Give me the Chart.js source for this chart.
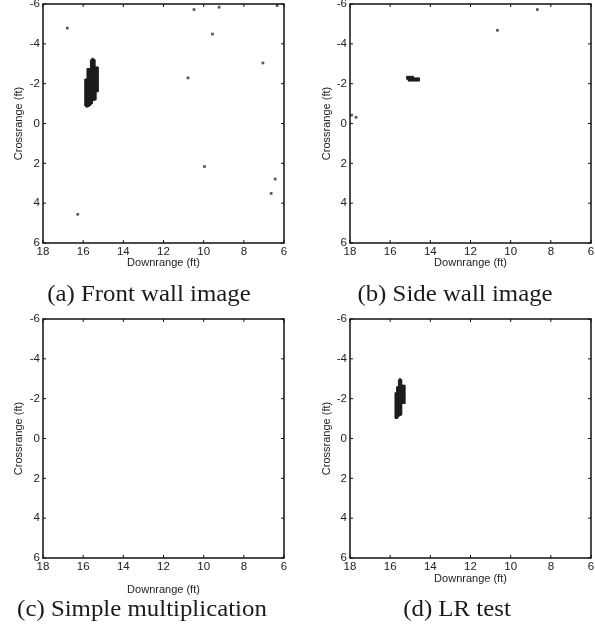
<!DOCTYPE html>
<html>
<head>
<meta charset="utf-8">
<script src="https://cdn.jsdelivr.net/npm/chart.js@4.4.1/dist/chart.umd.min.js"></script>
<style>
  html, body { margin: 0; padding: 0; background: #fff; overflow: hidden; }
  body { width: 595px; height: 627px; position: relative; }
  .pane { position: absolute; }
  .cap { position: absolute; font-family: "Liberation Serif", "Times New Roman", serif; font-size: 23px; color: #1a1a1a; white-space: nowrap; transform: translateX(-50%) scaleX(1.08); line-height: 1; }
</style>
</head>
<body>
<div class="pane" style="left:0px;top:0px;width:297px;height:280px;"><canvas id="ca"></canvas></div>
<div class="pane" style="left:297px;top:0px;width:298px;height:280px;"><canvas id="cb"></canvas></div>
<div class="pane" style="left:0px;top:300px;width:297px;height:300px;"><canvas id="cc"></canvas></div>
<div class="pane" style="left:297px;top:300px;width:298px;height:300px;"><canvas id="cd"></canvas></div>
<div class="cap" style="left:149px;top:282px;">(a) Front wall image</div>
<div class="cap" style="left:455px;top:282px;">(b) Side wall image</div>
<div class="cap" style="left:142px;top:597px;">(c) Simple multiplication</div>
<div class="cap" style="left:457px;top:597px;">(d) LR test</div>
<script>
// ---- axis ticks ----
const xTicks = [18, 16, 14, 12, 10, 8, 6];      // Downrange (ft), reversed
const yTicks = [-6, -4, -2, 0, 2, 4, 6];        // Crossrange (ft), reversed

// ---- (a) Front wall image ----
const blobAX = [15.64, 15.54, 15.42, 15.42, 15.26, 15.26, 15.37, 15.37, 15.54, 15.54, 15.67, 15.81, 15.92, 15.92, 15.81, 15.81, 15.64, 15.64];
const blobAY = [-3.18, -3.29, -3.21, -2.84, -2.84, -1.59, -1.59, -1.18, -1.14, -1.01, -0.88, -0.81, -0.88, -2.23, -2.23, -2.76, -2.76, -3.18];
const dotsAX = [16.79, 10.48, 9.23, 6.34, 9.56, 7.05, 10.78, 9.96, 6.44, 6.64, 16.27];
const dotsAY = [-4.79, -5.72, -5.84, -5.92, -4.49, -3.04, -2.29, 2.16, 2.79, 3.51, 4.56];

// ---- (b) Side wall image ----
const blobBX = [15.18, 14.85, 14.85, 14.55, 14.55, 15.10, 15.10, 15.18, 15.18];
const blobBY = [-2.37, -2.37, -2.29, -2.29, -2.13, -2.13, -2.22, -2.22, -2.37];
const dotsBX = [8.67, 10.66, 17.92, 17.70];
const dotsBY = [-5.72, -4.68, -0.42, -0.31];

// ---- (c) Simple multiplication: no detections ----
const dotsCX = [];
const dotsCY = [];

// ---- (d) LR test ----
const blobDX = [15.59, 15.52, 15.43, 15.43, 15.27, 15.27, 15.43, 15.43, 15.59, 15.62, 15.76, 15.76, 15.68, 15.68, 15.59, 15.59];
const blobDY = [-2.93, -3.02, -2.95, -2.68, -2.68, -1.76, -1.76, -1.18, -1.10, -1.01, -1.01, -2.30, -2.30, -2.60, -2.60, -2.93];

const toPts = (xs, ys) => xs.map((x, i) => ({x: x, y: ys[i]}));

const framePlugin = {
  id: 'frame',
  afterDraw(chart) {
    const {ctx, chartArea: a, scales} = chart;
    ctx.save();
    ctx.strokeStyle = '#111';
    ctx.lineWidth = 1.5;
    ctx.strokeRect(a.left, a.top, a.right - a.left, a.bottom - a.top);
    ctx.lineWidth = 1;
    const L = 3;
    ctx.beginPath();
    xTicks.forEach(v => {
      const px = scales.x.getPixelForValue(v);
      ctx.moveTo(px, a.bottom); ctx.lineTo(px, a.bottom - L);
      ctx.moveTo(px, a.top); ctx.lineTo(px, a.top + L);
    });
    yTicks.forEach(v => {
      const py = scales.y.getPixelForValue(v);
      ctx.moveTo(a.left, py); ctx.lineTo(a.left + L, py);
      ctx.moveTo(a.right, py); ctx.lineTo(a.right - L, py);
    });
    ctx.stroke();
    ctx.restore();
  }
};

function makePanel(id, cfg) {
  const datasets = [];
  if (cfg.blobX) {
    datasets.push({
      data: toPts(cfg.blobX, cfg.blobY),
      showLine: true, fill: 'shape', tension: 0,
      backgroundColor: '#1c1c1c', borderColor: '#1c1c1c', borderWidth: 1,
      pointRadius: 0
    });
  }
  datasets.push({
    data: toPts(cfg.dotsX, cfg.dotsY),
    pointStyle: 'rect', pointRadius: 1.9, borderWidth: 0,
    backgroundColor: '#555', borderColor: '#555'
  });
  const tickFont = {family: '"Liberation Sans", Arial, sans-serif', size: 11.5};
  const titleFont = {family: '"Liberation Sans", Arial, sans-serif', size: 11};
  return new Chart(document.getElementById(id), {
    type: 'scatter',
    data: {datasets},
    options: {
      responsive: true, maintainAspectRatio: false, animation: false,
      events: [],
      layout: {padding: {top: cfg.padTop, right: cfg.padRight, left: 0, bottom: 0}},
      plugins: {legend: {display: false}, tooltip: {enabled: false}},
      scales: {
        x: {
          type: 'linear', min: 6, max: 18, reverse: true,
          afterBuildTicks: s => { s.ticks = xTicks.map(v => ({value: v})); },
          ticks: {font: tickFont, color: '#222', padding: 2, maxRotation: 0, autoSkip: false},
          grid: {display: false, drawTicks: false},
          border: {display: false},
          title: {display: true, text: 'Downrange (ft)', font: titleFont, color: '#222', padding: {top: 0, bottom: cfg.xTitlePad}},
          afterFit: s => { s.height = cfg.xHeight; s.paddingLeft = 0; s.paddingRight = 0; }
        },
        y: {
          type: 'linear', min: -6, max: 6, reverse: true,
          afterBuildTicks: s => { s.ticks = yTicks.map(v => ({value: v})); },
          ticks: {font: tickFont, color: '#222', padding: 3, autoSkip: false},
          grid: {display: false, drawTicks: false},
          border: {display: false},
          title: {display: true, text: 'Crossrange (ft)', font: titleFont, color: '#222', padding: {top: cfg.yTitlePad, bottom: 0}},
          afterFit: s => { s.width = cfg.yWidth; s.paddingTop = 0; s.paddingBottom = 0; }
        }
      }
    },
    plugins: [framePlugin]
  });
}

makePanel('ca', {blobX: blobAX, blobY: blobAY, dotsX: dotsAX, dotsY: dotsAY,
  padTop: 3.5, padRight: 13, yWidth: 43, xHeight: 37, xTitlePad: 10.4, yTitlePad: 12.4});
makePanel('cb', {blobX: blobBX, blobY: blobBY, dotsX: dotsBX, dotsY: dotsBY,
  padTop: 3.5, padRight: 4, yWidth: 53, xHeight: 37, xTitlePad: 10.4, yTitlePad: 23});
makePanel('cc', {dotsX: dotsCX, dotsY: dotsCY,
  padTop: 19, padRight: 13, yWidth: 43, xHeight: 42, xTitlePad: 3.4, yTitlePad: 12.4});
makePanel('cd', {blobX: blobDX, blobY: blobDY, dotsX: [], dotsY: [],
  padTop: 19, padRight: 4, yWidth: 53, xHeight: 42, xTitlePad: 14.4, yTitlePad: 23});
</script>
</body>
</html>
